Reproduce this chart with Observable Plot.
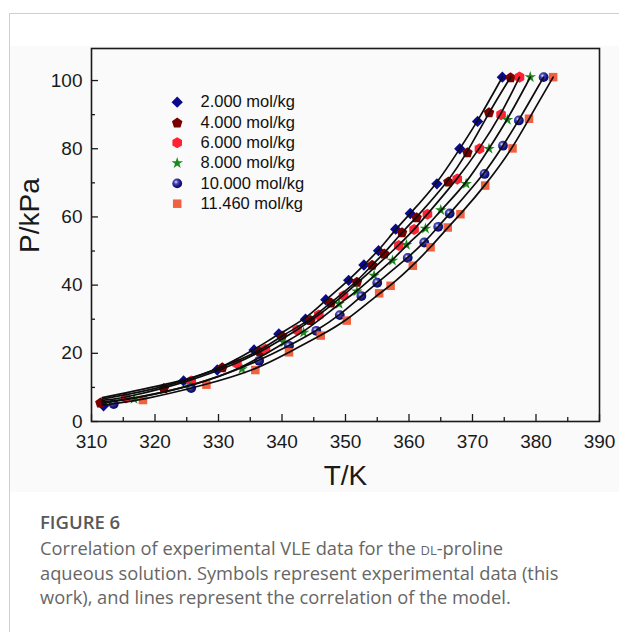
<!DOCTYPE html>
<html>
<head>
<meta charset="utf-8">
<script src="https://cdn.jsdelivr.net/npm/d3@7"></script>
<script src="https://cdn.jsdelivr.net/npm/@observablehq/plot@0.6"></script>
<style>
  html, body { margin: 0; padding: 0; background: #ffffff; }
  body { width: 619px; height: 632px; position: relative; overflow: hidden; }
  #card { position: absolute; left: 9px; top: 13px; width: 700px; height: 700px;
          border-left: 1px solid #cfcfcf; border-top: 1px solid #cfcfcf; }
  #imgbg { position: absolute; left: 10px; top: 46px; width: 609px; height: 446px; background: #fafafa; }
  #chart { position: absolute; left: 0; top: 0; }
  #caption { position: absolute; left: 40px; top: 510px; width: 578px;
             font-family: "Open Sans", Lato, sans-serif; color: #666; }
  #caption .fig { font-weight: 600; font-size: 18.5px; line-height: 24px; color: #585858; }
  #caption .txt { font-size: 18.3px; line-height: 24.5px; margin-top: 2px; white-space: nowrap; }
</style>
</head>
<body>
<div id="card"></div>
<div id="imgbg"></div>
<div id="chart"></div>
<div id="caption">
  <div class="fig">FIGURE 6</div>
  <div class="txt">Correlation of experimental VLE data for the <span style="font-variant: small-caps;">dl</span>-proline<br>aqueous solution. Symbols represent experimental data (this<br>work), and lines represent the correlation of the model.</div>
</div>
<script>
// ---- data ----
const labels = ["2.000 mol/kg", "4.000 mol/kg", "6.000 mol/kg", "8.000 mol/kg", "10.000 mol/kg", "11.460 mol/kg"];

const T_2000 = [311.9, 324.5, 329.8, 335.6, 339.5, 343.7, 346.9, 350.5, 352.9, 355.2, 357.9, 360.2, 364.4, 368.0, 370.8, 374.7];
const P_2000 = [4.6, 11.9, 15.1, 21.0, 25.7, 30.0, 35.7, 41.4, 45.9, 50.1, 56.4, 61.0, 69.7, 80.0, 88.0, 101.0];

const T_4000 = [311.4, 321.4, 330.6, 336.5, 340.0, 344.5, 347.7, 351.8, 354.2, 356.1, 358.9, 361.2, 366.2, 369.2, 372.6, 376.0];
const P_4000 = [5.6, 9.8, 15.9, 20.6, 25.2, 29.8, 34.9, 41.0, 46.0, 49.3, 55.5, 59.9, 70.4, 79.0, 90.7, 101.0];

const T_6000 = [315.4, 325.7, 332.9, 337.4, 342.4, 345.8, 349.7, 358.4, 360.8, 362.9, 367.6, 371.1, 374.5, 377.4];
const P_6000 = [6.9, 11.9, 17.0, 21.2, 26.8, 31.2, 36.9, 51.6, 56.3, 60.8, 71.1, 80.0, 90.0, 101.0];

const T_8000 = [316.7, 325.5, 333.7, 340.3, 343.4, 349.0, 351.8, 354.5, 357.4, 359.6, 362.6, 365.0, 369.0, 372.6, 375.5, 379.1];
const P_8000 = [6.6, 10.3, 15.4, 23.2, 26.1, 34.5, 38.2, 42.8, 47.2, 51.8, 56.6, 62.0, 69.7, 80.0, 88.5, 101.0];

const T_10000 = [313.5, 325.7, 336.4, 341.1, 345.4, 349.1, 352.5, 355.0, 359.8, 362.4, 364.6, 366.4, 371.9, 374.8, 377.3, 381.2];
const P_10000 = [5.1, 9.8, 17.8, 22.2, 26.6, 31.2, 36.8, 40.7, 48.0, 52.5, 57.1, 61.0, 72.6, 80.9, 88.3, 101.0];

const T_11460 = [318.1, 328.1, 335.8, 341.1, 346.1, 350.2, 355.3, 357.1, 360.6, 363.4, 366.1, 368.1, 372.0, 376.3, 378.9, 382.7];
const P_11460 = [6.3, 10.8, 15.1, 20.3, 25.2, 29.6, 37.6, 39.8, 45.7, 51.1, 56.9, 60.8, 69.2, 80.1, 88.8, 101.0];

// model-curve left end points
const curveStartT = 311.7;
const curveStartP = [7.0, 6.6, 6.2, 5.8, 5.3, 4.8];

const xTickLabels = [310, 320, 330, 340, 350, 360, 370, 380, 390];
const xMinorTicks = [315, 325, 335, 345, 355, 365, 375, 385];
const yTickLabels = [0, 20, 40, 60, 80, 100];
const yMinorTicks = [10, 30, 50, 70, 90];

// ---- symbols ----
const pentagon = {
  draw(context, size) {
    const R = Math.sqrt(size / Math.PI) * 1.15;
    for (let k = 0; k < 5; ++k) {
      const a = -Math.PI / 2 + k * 2 * Math.PI / 5;
      const px = R * Math.cos(a), py = R * Math.sin(a) + R * 0.1;
      if (k === 0) context.moveTo(px, py); else context.lineTo(px, py);
    }
    context.closePath();
  }
};

const styles = [
  {symbol: "diamond2", r: 5.1, fill: "#0a0a8f"},
  {symbol: pentagon, r: 4.8, fill: "#7a0000"},
  {symbol: "hexagon", r: 4.8, fill: "#ff2233"},
  {symbol: "star", r: 3.6, fill: "#1a8a1a"},
  {symbol: "circle", r: 4.9, fill: "url(#sphereGrad)"},
  {symbol: "square", r: 4.8, fill: "#f0623f"}
];

const Ts = [T_2000, T_4000, T_6000, T_8000, T_10000, T_11460];
const Ps = [P_2000, P_4000, P_6000, P_8000, P_10000, P_11460];

const series = Ts.map((T, i) => {
  const rows = T.map((t, j) => ({T: t, P: Ps[i][j]}));
  const line = [{T: curveStartT, P: curveStartP[i]}].concat(rows.filter(d => d.T > 314));
  return {rows, line, ...styles[i]};
});

// ---- layout ----
const W = 619, H = 495;
const mL = 91, mR = 20, mT = 48, mB = 74;
const frameW = W - mL - mR, frameH = H - mT - mB;
const ink = "#1a1a1a";

const marks = [];
series.forEach(s => {
  marks.push(Plot.dot(s.rows, {x: "T", y: "P", symbol: s.symbol, r: s.r, fill: s.fill, stroke: "none"}));
});
series.forEach(s => {
  marks.push(Plot.line(s.line, {x: "T", y: "P", curve: "basis", stroke: "#0d0d0d", strokeWidth: 1.7}));
});

// inward ticks
marks.push(Plot.tickX(xTickLabels, {x: d => d, insetTop: frameH - 7, stroke: ink, strokeWidth: 1.3}));
marks.push(Plot.tickX(xMinorTicks, {x: d => d, insetTop: frameH - 4, stroke: ink, strokeWidth: 1.3}));
marks.push(Plot.tickY(yTickLabels, {y: d => d, insetRight: frameW - 7, stroke: ink, strokeWidth: 1.3}));
marks.push(Plot.tickY(yMinorTicks, {y: d => d, insetRight: frameW - 4, stroke: ink, strokeWidth: 1.3}));

marks.push(Plot.axisX(xTickLabels, {tickSize: 0, tickPadding: 12.5, fontSize: 19, label: null, tickFormat: d => String(d), fill: ink}));
marks.push(Plot.axisY(yTickLabels, {tickSize: 0, tickPadding: 9, fontSize: 19, label: null, tickFormat: d => String(d), fill: ink}));

marks.push(Plot.frame({stroke: ink, strokeWidth: 1.6}));

// axis titles
marks.push(Plot.text(["T/K"], {text: d => d, frameAnchor: "bottom", lineAnchor: "middle", dy: 55, fontSize: 28, fill: ink}));
marks.push(Plot.text(["P/kPa"], {text: d => d, frameAnchor: "left", lineAnchor: "middle", dx: -61, dy: 18, rotate: -90, fontSize: 28, fill: ink}));

// legend
labels.forEach((lab, i) => {
  const s = styles[i];
  marks.push(Plot.dot([lab], {frameAnchor: "top-left", dx: 85.7, dy: 53.7 + i * 20.3, symbol: s.symbol, r: s.r, fill: s.fill, stroke: "none"}));
  marks.push(Plot.text([lab], {text: d => d, frameAnchor: "top-left", lineAnchor: "middle", dx: 109, dy: 53.7 + i * 20.3, textAnchor: "start", fontSize: 16.5, fill: "#111"}));
});

const chart = Plot.plot({
  width: W, height: H,
  marginLeft: mL, marginRight: mR, marginTop: mT, marginBottom: mB,
  x: {domain: [310, 390], label: null},
  y: {domain: [0, 109.4], label: null},
  style: {fontFamily: "'Liberation Sans', Arial, sans-serif", background: "transparent", color: ink, overflow: "visible"},
  marks
});

chart.insertAdjacentHTML("afterbegin",
  '<defs><radialGradient id="sphereGrad" cx="0.38" cy="0.36" r="0.65">' +
  '<stop offset="0" stop-color="#e6e6ff"/>' +
  '<stop offset="0.3" stop-color="#4a4ab8"/>' +
  '<stop offset="0.7" stop-color="#151585"/>' +
  '<stop offset="1" stop-color="#0a0a60"/>' +
  '</radialGradient></defs>');

document.getElementById("chart").appendChild(chart);
</script>
</body>
</html>
